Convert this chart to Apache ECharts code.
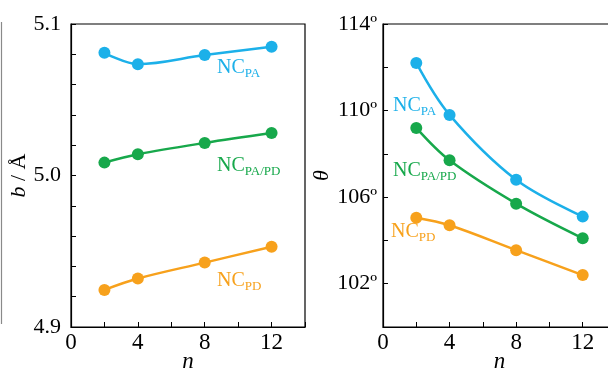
<!DOCTYPE html>
<html>
<head>
<meta charset="utf-8">
<script src="https://cdn.jsdelivr.net/npm/echarts@6/dist/echarts.min.js"></script>
<style>
    html, body {margin: 0; padding: 0; background: #fff;}
    #main {width: 608px; height: 374px;}
</style>
</head>
<body>
<div id="main"></div>
<script>
    // n values shared by both panels
    let nValues = [2, 4, 8, 12];

    // left panel: b / Å
    let bPA = [5.081, 5.0735, 5.0795, 5.085];
    let bPAPD = [5.0085, 5.014, 5.0215, 5.028];
    let bPD = [4.9245, 4.932, 4.9425, 4.953];

    // right panel: theta (degrees)
    let thetaPA = [112.2, 109.8, 106.8, 105.1];
    let thetaPAPD = [109.2, 107.7, 105.7, 104.1];
    let thetaPD = [105.05, 104.7, 103.55, 102.4];

    let bTickLabels = [4.9, 5.0, 5.1];
    let thetaTickLabels = [102, 106, 110, 114];
    let nTickLabels = [0, 4, 8, 12];

    let cyan = '#1cb0e9';
    let green = '#17a84b';
    let orange = '#f7a11c';
    let serif = 'Liberation Serif';

    let pairs = (ys) => nValues.map((n, i) => [n, ys[i]]);

    let makeSeries = (name, ys, color, idx) => ({
        name: name,
        type: 'line',
        xAxisIndex: idx,
        yAxisIndex: idx,
        data: pairs(ys),
        smooth: 0.35,
        symbol: 'circle',
        symbolSize: 12,
        itemStyle: {color: color},
        lineStyle: {color: color, width: 2.5}
    });

    let xAxisBase = (idx) => ({
        type: 'value',
        gridIndex: idx,
        min: 0,
        max: 14,
        interval: 2,
        name: 'n',
        nameLocation: 'middle',
        nameGap: 23,
        nameMoveOverlap: false,
        nameTextStyle: {fontFamily: serif, fontStyle: 'italic', fontSize: 23, color: '#000'},
        axisLine: {lineStyle: {color: '#000', width: 1.2}},
        axisTick: {inside: true, length: 5, lineStyle: {color: '#000'}},
        splitLine: {show: false},
        axisLabel: {
            fontFamily: serif,
            fontSize: 23,
            color: '#000',
            margin: 4,
            formatter: (v) => nTickLabels.indexOf(v) >= 0 ? String(v) : ''
        }
    });

    let label = (sub, color, x, y) => ({
        type: 'text',
        left: x,
        top: y,
        style: {
            text: '{n|NC}{s|' + sub + '}',
            fill: color,
            rich: {
                n: {fontFamily: serif, fontSize: 20, fill: color, lineHeight: 24, verticalAlign: 'bottom'},
                s: {fontFamily: serif, fontSize: 13, fill: color, lineHeight: 13, verticalAlign: 'bottom', padding: [0, 0, -2, 0]}
            }
        }
    });

    let myCharts = echarts.init(document.getElementById('main'));

    let option = {
        animation: false,
        backgroundColor: '#fff',
        grid: [
            {left: 71, top: 24, width: 234, height: 303, outerBoundsMode: 'none', show: true, borderColor: '#000', borderWidth: 1.2},
            {left: 383, top: 24, width: 233, height: 303, outerBoundsMode: 'none', show: true, borderColor: '#000', borderWidth: 1.2}
        ],
        xAxis: [xAxisBase(0), xAxisBase(1)],
        yAxis: [
            {
                type: 'value',
                gridIndex: 0,
                min: 4.9,
                max: 5.1,
                interval: 0.02,
                name: '{i|b} / Å',
                nameLocation: 'middle',
                nameRotate: 90,
                nameGap: 41,
                nameMoveOverlap: false,
                nameTextStyle: {
                    fontFamily: serif, fontSize: 22, color: '#000',
                    rich: {i: {fontFamily: serif, fontSize: 22, fontStyle: 'italic', color: '#000'}}
                },
                axisLine: {lineStyle: {color: '#000', width: 1.2}},
                axisTick: {inside: true, length: 5, lineStyle: {color: '#000'}},
                splitLine: {show: false},
                axisLabel: {
                    fontFamily: serif,
                    fontSize: 22,
                    color: '#000',
                    margin: 10,
                    formatter: (v) => bTickLabels.some((t) => Math.abs(t - v) < 1e-6) ? v.toFixed(1) : ''
                }
            },
            {
                type: 'value',
                gridIndex: 1,
                min: 100,
                max: 114,
                interval: 2,
                name: 'θ',
                nameLocation: 'middle',
                nameRotate: 90,
                nameGap: 50,
                nameMoveOverlap: false,
                nameTextStyle: {fontFamily: serif, fontStyle: 'italic', fontSize: 22, color: '#000'},
                axisLine: {lineStyle: {color: '#000', width: 1.2}},
                axisTick: {inside: true, length: 5, lineStyle: {color: '#000'}},
                splitLine: {show: false},
                axisLabel: {
                    fontFamily: serif,
                    fontSize: 22,
                    color: '#000',
                    margin: 6,
                    formatter: (v) => thetaTickLabels.indexOf(v) >= 0 ? v + 'º' : ''
                }
            }
        ],
        graphic: [
            {
                type: 'line',
                shape: {x1: 1.5, y1: 22, x2: 1.5, y2: 324},
                style: {stroke: '#8a8a8a', lineWidth: 1.2}
            },
            label('PA', cyan, 217, 58),
            label('PA/PD', green, 217, 156),
            label('PD', orange, 217, 271),
            label('PA', cyan, 393, 96),
            label('PA/PD', green, 393, 161),
            label('PD', orange, 391, 222)
        ],
        series: [
            makeSeries('NC_PA', bPA, cyan, 0),
            makeSeries('NC_PA/PD', bPAPD, green, 0),
            makeSeries('NC_PD', bPD, orange, 0),
            makeSeries('NC_PA', thetaPA, cyan, 1),
            makeSeries('NC_PA/PD', thetaPAPD, green, 1),
            makeSeries('NC_PD', thetaPD, orange, 1)
        ]
    };

    myCharts.setOption(option);
</script>
</body>
</html>
